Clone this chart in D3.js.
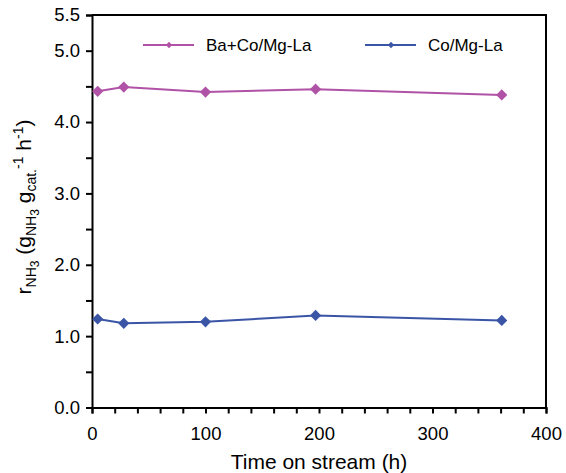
<!DOCTYPE html>
<html>
<head>
<meta charset="utf-8">
<script src="https://cdn.jsdelivr.net/npm/d3@7"></script>
<style>
  body { margin: 0; background: #fff; }
  text { font-family: "Liberation Sans", Arial, sans-serif; fill: #000; }
</style>
</head>
<body>
<div id="wrapper"></div>
<script>
// data
const timeHours = [5, 28, 100, 197, 361];
const baCoValues = [4.43, 4.49, 4.42, 4.46, 4.38];
const coValues = [1.24, 1.18, 1.20, 1.29, 1.22];
const seriesNames = ["Ba+Co/Mg-La", "Co/Mg-La"];
const seriesColors = ["#b052a6", "#3a55a6"];
const yTickLabels = [0, 1, 2, 3, 4, 5, 5.5];

const dimension = {
    width: 566,
    height: 473,
    margin: { top: 15, left: 92, bottom: 65, right: 20 }
};
dimension.boundedWidth = dimension.width - dimension.margin.left - dimension.margin.right;
dimension.boundedHeight = dimension.height - dimension.margin.top - dimension.margin.bottom;

const svg = d3.select("#wrapper").append("svg")
    .attr("width", dimension.width)
    .attr("height", dimension.height);

const bounded = svg.append("g")
    .attr("transform", `translate(${dimension.margin.left},${dimension.margin.top})`);

const xScaler = d3.scaleLinear().domain([0, 400]).range([0, 454]);
const yScaler = d3.scaleLinear().domain([0, 5.5]).range([dimension.boundedHeight - 0.5, 0]);

// frame (top + right)
bounded.append("path")
    .attr("d", `M0,0H${xScaler(400)}V${yScaler(0)}`)
    .attr("fill", "none")
    .attr("stroke", "#000")
    .attr("stroke-width", 2);

// x axis
const xAxis = bounded.append("g")
    .attr("transform", `translate(0,${yScaler(0)})`)
    .call(d3.axisBottom(xScaler)
        .tickValues(d3.range(0, 401, 20))
        .tickSize(6)
        .tickFormat(d => d % 100 === 0 ? d : ""));
xAxis.select(".domain").attr("stroke-width", 2);
xAxis.selectAll(".tick line").attr("stroke-width", 2);
xAxis.selectAll("text")
    .attr("dy", "1.25em")
    .style("font-size", "18.5px")
    .style("font-family", "Liberation Sans, Arial, sans-serif");

// y axis
const yAxis = bounded.append("g")
    .call(d3.axisLeft(yScaler)
        .tickValues(d3.range(0, 5.51, 0.5))
        .tickSize(6)
        .tickFormat(d => yTickLabels.some(v => Math.abs(v - d) < 1e-6) ? d.toFixed(1) : ""));
yAxis.select(".domain").attr("stroke-width", 2);
yAxis.selectAll(".tick line").attr("stroke-width", 2);
yAxis.selectAll("text")
    .attr("x", -12)
    .style("font-size", "18.5px")
    .style("font-family", "Liberation Sans, Arial, sans-serif");
bounded.selectAll(".tick text").attr("fill", "#000");

// lines
const series = [baCoValues, coValues];
const lineGenerator = d3.line()
    .x((d, i) => xScaler(timeHours[i]))
    .y(d => yScaler(d));

const diamond = d3.symbol().type(d3.symbolDiamond2);

series.forEach((values, s) => {
    bounded.append("path")
        .attr("d", lineGenerator(values))
        .attr("fill", "none")
        .attr("stroke", seriesColors[s])
        .attr("stroke-width", 2);
    bounded.selectAll(null)
        .data(values)
        .join("path")
        .attr("d", diamond.size(80)())
        .attr("transform", (d, i) => `translate(${xScaler(timeHours[i])},${yScaler(d)})`)
        .attr("fill", seriesColors[s]);
});

// legend
const legendX = [51, 273];
seriesNames.forEach((name, s) => {
    const g = bounded.append("g")
        .attr("transform", `translate(${legendX[s]},30)`);
    g.append("line")
        .attr("x1", 0).attr("x2", 51)
        .attr("stroke", seriesColors[s])
        .attr("stroke-width", 2);
    g.append("path")
        .attr("d", diamond.size(25)())
        .attr("transform", "translate(26,0)")
        .attr("fill", seriesColors[s]);
    g.append("text")
        .attr("x", 63)
        .attr("dy", "0.36em")
        .style("font-size", "17px")
        .text(name);
});

// axis titles
svg.append("text")
    .attr("x", dimension.margin.left + xScaler(200))
    .attr("y", 469)
    .attr("text-anchor", "middle")
    .style("font-size", "21px")
    .text("Time on stream (h)");

const yTitle = svg.append("text")
    .attr("transform", "translate(31,207) rotate(-90)")
    .attr("text-anchor", "middle")
    .style("font-size", "21px");
yTitle.append("tspan").text("r");
yTitle.append("tspan").attr("dy", 5).style("font-size", "14px").text("NH");
yTitle.append("tspan").attr("dy", 3).style("font-size", "12px").text("3");
yTitle.append("tspan").attr("dy", -8).text(" (g");
yTitle.append("tspan").attr("dy", 5).style("font-size", "14px").text("NH");
yTitle.append("tspan").attr("dy", 3).style("font-size", "12px").text("3");
yTitle.append("tspan").attr("dy", -8).text(" g");
yTitle.append("tspan").attr("dy", 5).style("font-size", "14px").text("cat.");
yTitle.append("tspan").attr("dy", -13).style("font-size", "14px").text("-1");
yTitle.append("tspan").attr("dy", 8).text(" h");
yTitle.append("tspan").attr("dy", -8).style("font-size", "14px").text("-1");
yTitle.append("tspan").attr("dy", 8).text(")");
</script>
</body>
</html>
